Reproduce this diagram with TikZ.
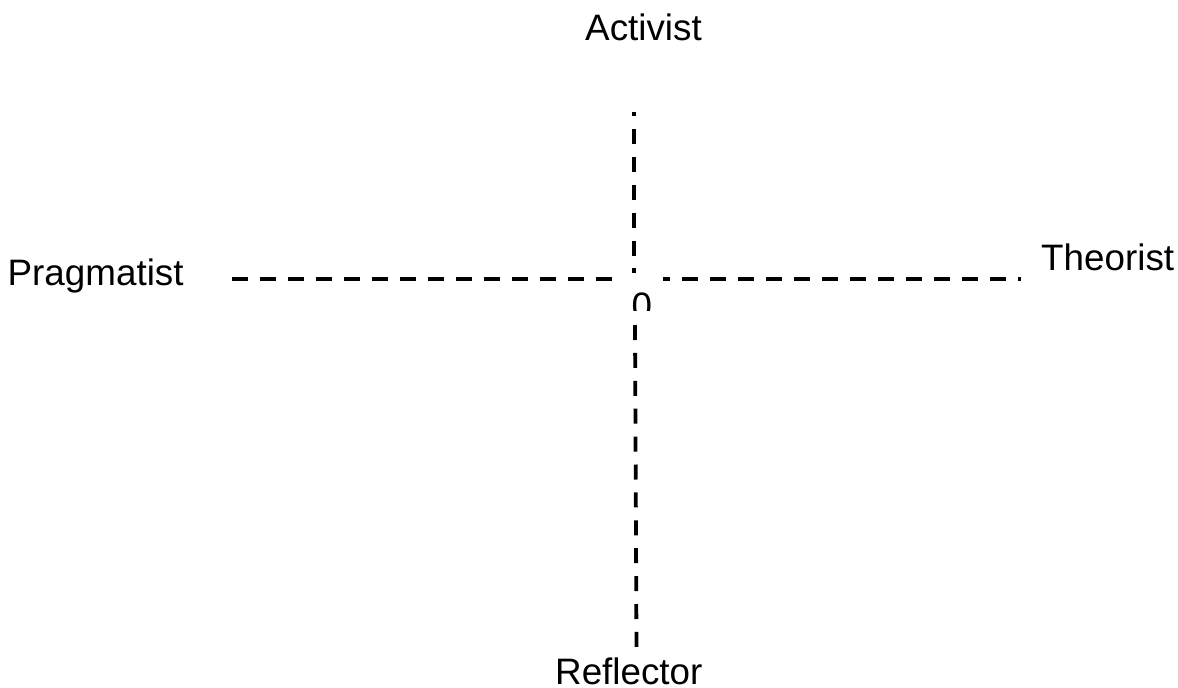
\documentclass[tikz,border=0pt]{standalone}
\usepackage{fontspec}
\setmainfont{Liberation Sans}
\begin{document}
\begin{tikzpicture}[x=1pt,y=-1pt,
  lbl/.style={inner sep=0pt,anchor=base west,font=\fontsize{36.8}{40}\selectfont},
  axis/.style={line width=3.8pt,line cap=butt,dash pattern=on 15pt off 12.9pt}]
\useasboundingbox (0,0) rectangle (1178,688);
% labels
\node[lbl] (act) at (585,40) {Activist};
\node[lbl] (prag) at (7.5,285) {Pragmatist};
\node[lbl] (theo) at (1041,270) {Theorist};
\node[lbl] (refl) at (555,684.5) {Reflector};
\begin{scope}
  \clip (600,280) rectangle (670,310);
  \node[lbl] (zero) at (631.5,318) {0};
\end{scope}
% axis end points
\coordinate (vt) at (634,112);
\coordinate (vm) at (634,273);
\coordinate (vb1) at (635,325);
\coordinate (vb2) at (636.5,648);
\coordinate (hl1) at (232,279);
\coordinate (hl2) at (613,279);
\coordinate (hr1) at (663,279);
\coordinate (hr2) at (1021,279);
% axes
\draw[axis,dash phase=11pt] (vt) -- (vm);
\draw[axis] (vb1) -- (vb2);
\draw[axis,dash pattern=on 16pt off 12pt] (hl1) -- (hl2);
\draw[axis,dash pattern=on 16pt off 12pt,dash phase=9pt] (hr1) -- (hr2);
\end{tikzpicture}
\end{document}
